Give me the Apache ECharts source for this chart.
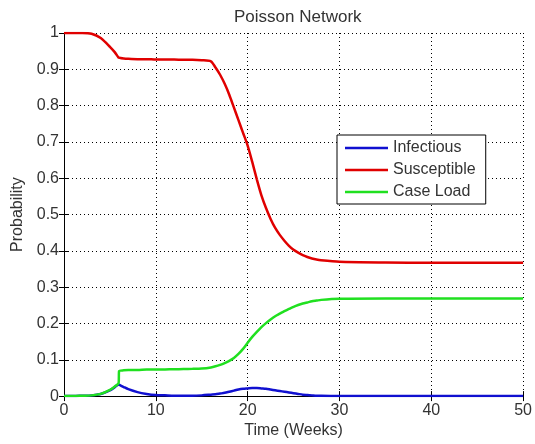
<!DOCTYPE html>
<html>
<head>
<meta charset="utf-8">
<title>Poisson Network</title>
<script src="https://cdn.jsdelivr.net/npm/echarts@6/dist/echarts.min.js"></script>
<style>
  html, body { margin: 0; padding: 0; background: #fff; }
  #main { width: 535px; height: 444px; }
</style>
</head>
<body>
<div id="main"></div>
<script>
// time points (weeks)
var weeks = [0, 1, 2, 3, 4, 5, 5.5, 5.95, 6, 6.5, 7, 8, 9, 10, 11, 12, 13, 14, 15, 16, 16.5, 17, 17.5, 18, 18.5, 19, 19.5, 20, 20.5, 21, 21.5, 22, 22.5, 23, 23.5, 24, 24.5, 25, 25.5, 26, 26.5, 27, 27.5, 28, 30, 35, 40, 50];

var infectious = [0, 0, 0.001, 0.002, 0.006, 0.016, 0.024, 0.032, 0.032, 0.025, 0.019, 0.011, 0.006, 0.003, 0.002, 0.001, 0.001, 0.001, 0.002, 0.004, 0.005, 0.007, 0.009, 0.012, 0.015, 0.018, 0.02, 0.021, 0.022, 0.022, 0.021, 0.02, 0.018, 0.016, 0.014, 0.012, 0.01, 0.008, 0.006, 0.004, 0.003, 0.002, 0.001, 0.001, 0, 0, 0, 0];

var susceptible = [1, 1, 1, 0.998, 0.986, 0.962, 0.948, 0.932, 0.931, 0.930, 0.929, 0.928, 0.928, 0.927, 0.927, 0.927, 0.926, 0.926, 0.925, 0.922, 0.905, 0.885, 0.86, 0.83, 0.795, 0.76, 0.725, 0.69, 0.645, 0.597, 0.553, 0.518, 0.488, 0.463, 0.444, 0.428, 0.414, 0.403, 0.395, 0.388, 0.383, 0.379, 0.376, 0.374, 0.37, 0.368, 0.367, 0.367];

var caseLoad = [0, 0, 0.001, 0.002, 0.006, 0.017, 0.026, 0.036, 0.069, 0.071, 0.072, 0.072, 0.073, 0.073, 0.0735, 0.074, 0.0745, 0.075, 0.076, 0.079, 0.082, 0.086, 0.091, 0.097, 0.105, 0.116, 0.13, 0.147, 0.163, 0.177, 0.19, 0.201, 0.211, 0.22, 0.227, 0.234, 0.24, 0.246, 0.251, 0.255, 0.258, 0.261, 0.263, 0.265, 0.268, 0.269, 0.269, 0.269];

var seriesNames = ['Infectious', 'Susceptible', 'Case Load'];
var seriesColors = ['#1010d0', '#e00000', '#20e020'];

function pairs(vals) {
  return weeks.map(function (t, i) { return [t, vals[i]]; });
}

var chart = echarts.init(document.getElementById('main'));

var font = 'Liberation Sans, Arial, sans-serif';
var dotted = { color: '#000', width: 1, type: [1, 3] };

var option = {
  backgroundColor: '#fff',
  animation: false,
  title: {
    text: 'Poisson Network',
    left: 229,
    top: 4,
    textStyle: { fontFamily: font, fontSize: 17, fontWeight: 'normal', color: '#333' }
  },
  grid: { left: 64, right: 7, top: 33, bottom: 46 },
  legend: {
    orient: 'vertical',
    left: 337,
    top: 135,
    padding: [5, 10, 4, 8],
    icon: 'rect',
    itemWidth: 43,
    itemHeight: 2.5,
    itemGap: 6,
    backgroundColor: '#fff',
    borderColor: '#000',
    borderWidth: 1,
    borderRadius: 0,
    textStyle: { fontFamily: font, fontSize: 16, color: '#333', lineHeight: 16 },
    data: seriesNames
  },
  xAxis: [{
    type: 'value',
    min: 0,
    max: 50,
    interval: 10,
    name: 'Time (Weeks)',
    nameLocation: 'middle',
    nameGap: 24,
    nameTextStyle: { fontFamily: font, fontSize: 16, color: '#333' },
    axisLine: { lineStyle: { color: '#000', width: 1 } },
    axisTick: { inside: true, length: 5, lineStyle: { color: '#000' } },
    axisLabel: { fontFamily: font, fontSize: 16, color: '#333', margin: 6 },
    splitLine: { show: true, lineStyle: dotted }
  }, {
    type: 'value',
    position: 'top',
    min: 0,
    max: 50,
    interval: 10,
    z: 3,
    axisLine: { show: true, lineStyle: { color: '#000', width: 1 } },
    axisTick: { inside: true, length: 5, lineStyle: { color: '#000' } },
    axisLabel: { show: false },
    splitLine: { show: false }
  }],
  yAxis: [{
    type: 'value',
    min: 0,
    max: 1,
    interval: 0.1,
    name: 'Probability',
    nameLocation: 'middle',
    nameGap: 33,
    nameTextStyle: { fontFamily: font, fontSize: 16, color: '#333' },
    axisLine: { show: true, lineStyle: { color: '#000', width: 1 } },
    axisTick: { show: true, inside: true, length: 5, lineStyle: { color: '#000' } },
    axisLabel: { fontFamily: font, fontSize: 16, color: '#333', margin: 5 },
    splitLine: { show: true, lineStyle: dotted }
  }, {
    type: 'value',
    position: 'right',
    min: 0,
    max: 1,
    interval: 0.1,
    axisLine: { show: true, lineStyle: { color: '#000', width: 1 } },
    axisTick: { show: true, inside: true, length: 5, lineStyle: { color: '#000' } },
    axisLabel: { show: false },
    splitLine: { show: false }
  }],
  series: [infectious, susceptible, caseLoad].map(function (vals, i) {
    return {
      name: seriesNames[i],
      type: 'line',
      data: pairs(vals),
      showSymbol: false,
      symbol: 'none',
      smooth: 0.25,
      color: seriesColors[i],
      lineStyle: { color: seriesColors[i], width: 2.5 }
    };
  })
};

chart.setOption(option);
</script>
</body>
</html>
